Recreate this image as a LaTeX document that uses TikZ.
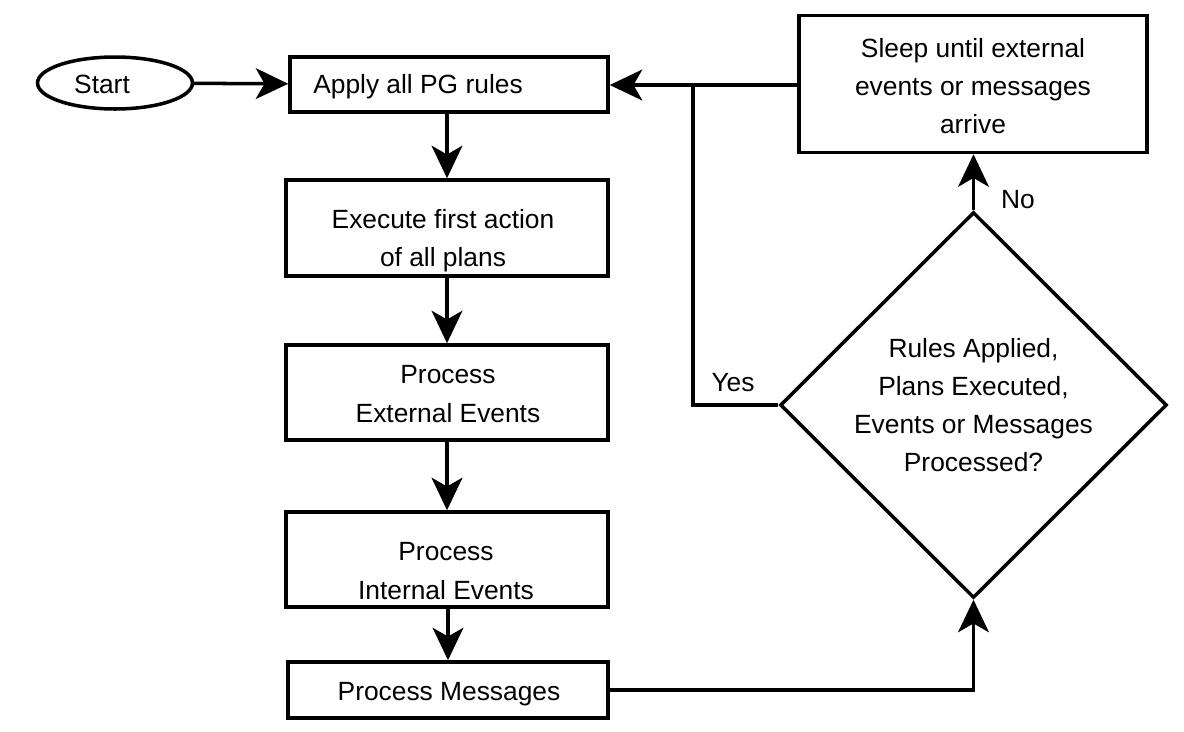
\documentclass[tikz,border=0pt]{standalone}
\usepackage{fontspec}
\setmainfont{Liberation Sans}
\usetikzlibrary{shapes.geometric,arrows.meta}
\begin{document}
\begin{tikzpicture}[x=0.02cm,y=-0.02cm,
  line width=2pt,
  every node/.style={font=\fontsize{15}{21.7}\selectfont, align=center, inner sep=0pt},
  box/.style={draw, rectangle},
  arr/.style={-{Stealth[length=18.5pt,width=17.5pt,inset=5pt]}},
  lbl/.style={font=\fontsize{15}{21.7}\selectfont}]
\useasboundingbox (0,0) rectangle (1184,731);
\node[draw, ellipse, minimum width=3.1cm, minimum height=1.04cm] (start) at (115,83) {};
\node (starttxt) at (102,84) {Start};
\node[box, minimum width=6.36cm, minimum height=1.1cm] (apply) at (449,84.5) {};
\node (applytxt) at (418,87) {Apply all PG rules};
\node[box, minimum width=6.44cm, minimum height=1.92cm] (exec) at (447,228) {};
\node (exectxt) at (443,241) {Execute first action\\of all plans};
\node[box, minimum width=6.44cm, minimum height=1.9cm] (ext) at (447,392.5) {};
\node (exttxt) at (448,394) {Process\\External Events};
\node[box, minimum width=6.44cm, minimum height=1.9cm] (int) at (447,559.5) {};
\node (inttxt) at (446,571) {Process\\Internal Events};
\node[box, minimum width=6.4cm, minimum height=1.12cm] (msg) at (448,690) {};
\node (msgtxt) at (449,694) {Process Messages};
\node[box, minimum width=6.96cm, minimum height=2.74cm] (sleep) at (973,84) {};
\node (sleeptxt) at (973,86) {Sleep until external\\events or messages\\arrive};
\node[draw, diamond, shape aspect=1, minimum width=7.74cm, minimum height=7.72cm] (dia) at (973.5,405) {Rules Applied,\\Plans Executed,\\Events or Messages\\Processed?};
\coordinate (j) at (693,85);
\draw[arr] (start) -- (apply);
\draw[arr] (exec.north |- apply.south) -- (exec.north);
\draw[arr] (exec) -- (ext);
\draw[arr] (ext) -- (int);
\draw[arr] (int.south -| msg.north) -- (msg.north);
\draw[arr] (msg.east) -| (dia.south);
\draw[arr] (dia.north) -- (sleep.south -| dia.north);
\draw[arr] (sleep.west |- j) -- (apply.east |- j);
\draw (dia.west) -| (j);
\node[lbl] (yes) at (733,383) {Yes};
\node[lbl] (no) at (1018,200) {No};
\end{tikzpicture}
\end{document}
